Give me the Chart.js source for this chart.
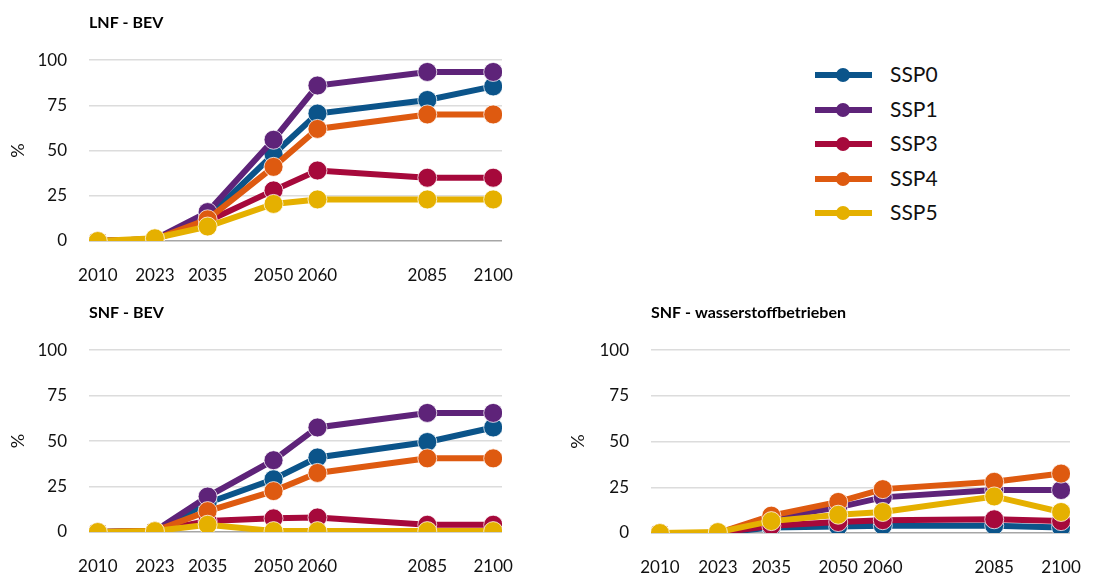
<!DOCTYPE html>
<html>
<head>
<meta charset="utf-8">
<script src="https://cdn.jsdelivr.net/npm/chart.js@4"></script>
<style>
  html, body { margin: 0; padding: 0; background: #fff; }
  body { width: 1112px; height: 573px; position: relative; overflow: hidden; font-family: Lato, sans-serif; }
  canvas { position: absolute; }
  #legend { position: absolute; left: 815px; top: 58px; }
  .row { position: relative; height: 34.5px; width: 200px; }
  .row .ln { position: absolute; left: 0; top: 14px; width: 57px; height: 6px; }
  .row .dot { position: absolute; left: 21px; top: 10px; width: 14px; height: 14px; border-radius: 50%; }
  .row .lbl { position: absolute; left: 75px; top: 3px; font-size: 21px; color: #111; }
</style>
</head>
<body>
<canvas id="lnfBev" width="560" height="290" style="left:0;top:0"></canvas>
<canvas id="snfBev" width="560" height="290" style="left:0;top:290px"></canvas>
<canvas id="snfH2" width="552" height="290" style="left:560px;top:290px"></canvas>
<div id="legend"></div>
<script>
const years = [2010, 2023, 2035, 2050, 2060, 2085, 2100];
const seriesNames = ['SSP0', 'SSP1', 'SSP3', 'SSP4', 'SSP5'];
const seriesColors = ['#0B548A', '#5E2379', '#A6093B', '#DE5A10', '#E5B000'];
const yTicks = [0, 25, 50, 75, 100];

// LNF - BEV
const lnfSSP0 = [0, 1, 13, 48, 70.5, 78, 85.5];
const lnfSSP1 = [0, 1, 16, 56, 86, 93.5, 93.5];
const lnfSSP3 = [0, 1, 11, 28, 39, 35, 35];
const lnfSSP4 = [0, 1, 12, 41, 62, 70, 70];
const lnfSSP5 = [0, 1.5, 8, 20.5, 23, 23, 23];

// SNF - BEV
const snfSSP0 = [0, 0.5, 16, 29, 41, 49.5, 57.5];
const snfSSP1 = [0, 0.5, 19.5, 39.5, 57.5, 65.5, 65.5];
const snfSSP3 = [0, 0.5, 6, 7.5, 8, 4, 4];
const snfSSP4 = [0, 0.5, 11.5, 22.5, 32.5, 40.5, 40.5];
const snfSSP5 = [0, 0.5, 4, 0.5, 0.5, 0.5, 0.5];

// SNF - wasserstoffbetrieben
const h2SSP0 = [0, 0, 3, 3.5, 4, 4, 3];
const h2SSP1 = [0, 0, 8, 14, 19.5, 23.5, 23.5];
const h2SSP3 = [0, 0, 4, 6, 7, 7.5, 6.5];
const h2SSP4 = [0, 0, 9.5, 17, 24, 28, 32.5];
const h2SSP5 = [0, 0.5, 6.5, 10, 11.5, 20, 11.5];

const FONT = 'Lato, sans-serif';

function makeChart(id, title, series, yAxisWidth, rightPad, bottomPad) {
    const ctx = document.getElementById(id);
    return new Chart(ctx, {
        type: 'line',
        data: {
            datasets: series.map((vals, i) => ({
                label: seriesNames[i],
                data: vals.map((v, j) => ({x: years[j], y: v})),
                borderColor: seriesColors[i],
                backgroundColor: seriesColors[i],
                borderWidth: 6,
                pointRadius: 9.5,
                pointHoverRadius: 9.5,
                pointBorderColor: 'rgba(255,255,255,0.75)',
                pointBorderWidth: 1,
                pointBackgroundColor: seriesColors[i],
                tension: 0,
                order: series.length - i
            }))
        },
        options: {
            responsive: false,
            animation: false,
            layout: { padding: { left: 0, right: rightPad, top: 0, bottom: bottomPad } },
            plugins: {
                legend: { display: false },
                tooltip: { enabled: false },
                title: {
                    display: true,
                    text: title,
                    align: 'start',
                    fullSize: false,
                    color: '#000',
                    font: { family: FONT, size: 16, weight: 'bold' },
                    padding: { top: 13, bottom: 28 }
                }
            },
            scales: {
                x: {
                    type: 'linear',
                    min: 2008,
                    max: 2102,
                    afterBuildTicks: s => { s.ticks = years.map(v => ({value: v})); },
                    afterFit: s => { s.height = 42; },
                    grid: { display: false, drawTicks: false },
                    border: { display: false },
                    ticks: {
                        autoSkip: false,
                        maxRotation: 0,
                        padding: 24,
                        color: '#111',
                        font: { family: FONT, size: 17 },
                        callback: v => String(v)
                    }
                },
                y: {
                    min: 0,
                    max: 100,
                    afterBuildTicks: s => { s.ticks = yTicks.map(v => ({value: v})); },
                    afterFit: s => { s.width = yAxisWidth; },
                    grid: {
                        drawTicks: false,
                        lineWidth: 1.5,
                        color: c => c.tick && c.tick.value === 0 ? '#A6A6A6' : '#DCDCDC'
                    },
                    border: { display: false },
                    ticks: {
                        padding: 22,
                        color: '#111',
                        font: { family: FONT, size: 17 }
                    },
                    title: {
                        display: true,
                        text: '%',
                        color: '#111',
                        font: { family: FONT, size: 18 },
                        padding: { top: 7, bottom: 0 }
                    }
                }
            }
        }
    });
}

makeChart('lnfBev', 'LNF - BEV', [lnfSSP0, lnfSSP1, lnfSSP3, lnfSSP4, lnfSSP5], 89, 58, 7);
makeChart('snfBev', 'SNF - BEV', [snfSSP0, snfSSP1, snfSSP3, snfSSP4, snfSSP5], 89, 58, 6);
makeChart('snfH2', 'SNF - wasserstoffbetrieben', [h2SSP0, h2SSP1, h2SSP3, h2SSP4, h2SSP5], 91, 42, 5);

// legend
const legend = document.getElementById('legend');
seriesNames.forEach((name, i) => {
    const row = document.createElement('div');
    row.className = 'row';
    row.innerHTML = '<div class="ln" style="background:' + seriesColors[i] + '"></div>' +
        '<div class="dot" style="background:' + seriesColors[i] + '"></div>' +
        '<div class="lbl">' + name + '</div>';
    legend.appendChild(row);
});
</script>
</body>
</html>
